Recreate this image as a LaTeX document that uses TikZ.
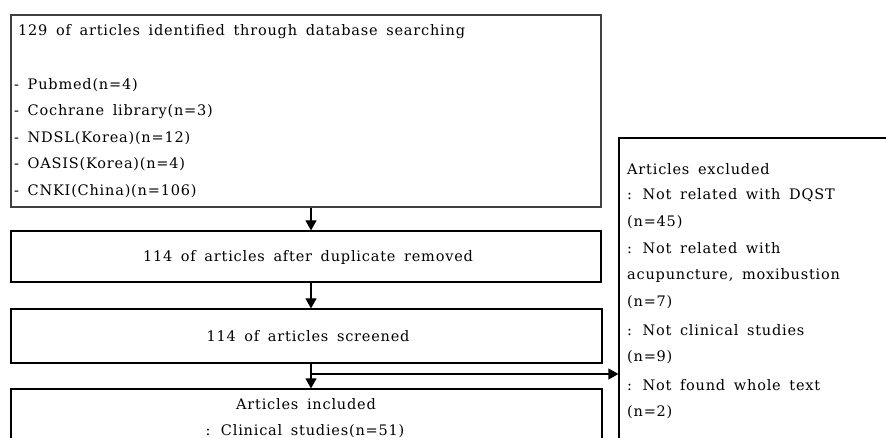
\documentclass[tikz,border=0pt]{standalone}
\usepackage{fontspec}
\setmainfont{DejaVu Serif}[LetterSpace=5.5,WordSpace=1.6]
\usetikzlibrary{arrows.meta}
\begin{document}
\begin{tikzpicture}[x=1pt,y=1pt,
  box/.style={draw, line width=1.2pt, rectangle, inner sep=0pt},
  txt/.style={inner sep=0pt, font=\fontsize{14.5}{16}\selectfont, anchor=west},
  ctxt/.style={inner sep=0pt, font=\fontsize{14.5}{16}\selectfont},
  arr/.style={line width=1.2pt, -{Triangle[length=10pt,width=11pt]}}]
\useasboundingbox (0,0) rectangle (886,-438);
\clip (0,0) rectangle (886,-438);
% boxes
\node[box, line width=1.8pt, draw=black!75, minimum width=590, minimum height=192] (src) at (306,-111) {};
\node[box, minimum width=590, minimum height=51] (dup) at (306,-256.5) {};
\node[box, minimum width=591, minimum height=54] (scr) at (306.5,-336) {};
\node[box, minimum width=591, minimum height=80] (inc) at (306.5,-429) {};
\node[box, minimum width=290, minimum height=330] (exc) at (764,-303) {};
% texts
\node[txt] (t0) at (18,-32) {129 of articles identified through database searching};
\node[txt] (t1) at (14,-85) {- Pubmed(n=4)};
\node[txt] (t2) at (14,-111.5) {- Cochrane library(n=3)};
\node[txt] (t3) at (14,-138) {- NDSL(Korea)(n=12)};
\node[txt] (t4) at (14,-164.5) {- OASIS(Korea)(n=4)};
\node[txt] (t5) at (14,-191) {- CNKI(China)(n=106)};
\node[ctxt] (tdup) at (308,-257) {114 of articles after duplicate removed};
\node[ctxt] (tscr) at (308,-336) {114 of articles screened};
\node[ctxt] (tinc1) at (306,-404) {Articles included};
\node[ctxt] (tinc2) at (305,-431) {: Clinical studies(n=51)};
\node[txt] (e1) at (627,-169) {Articles excluded};
\node[txt] (e2) at (627,-195.5) {: Not related with DQST};
\node[txt] (e3) at (627,-222) {(n=45)};
\node[txt] (e4) at (627,-248.5) {: Not related with};
\node[txt] (e5) at (627,-275.5) {acupuncture, moxibustion};
\node[txt] (e6) at (627,-302.5) {(n=7)};
\node[txt] (e7) at (627,-330) {: Not clinical studies};
\node[txt] (e8) at (627,-357.5) {(n=9)};
\node[txt] (e9) at (627,-385) {: Not found whole text};
\node[txt] (e10) at (627,-412.5) {(n=2)};
% arrows
\draw[arr] ([xshift=5pt]src.south) -- ([xshift=5pt]dup.north);
\draw[arr] ([xshift=5pt]dup.south) -- ([xshift=4.5pt]scr.north);
\draw[arr] ([xshift=4.5pt]scr.south) -- ([xshift=4.5pt]inc.north);
\coordinate (br) at (311,-374);
\draw[arr] (br) -- (br -| exc.west);
\end{tikzpicture}
\end{document}
